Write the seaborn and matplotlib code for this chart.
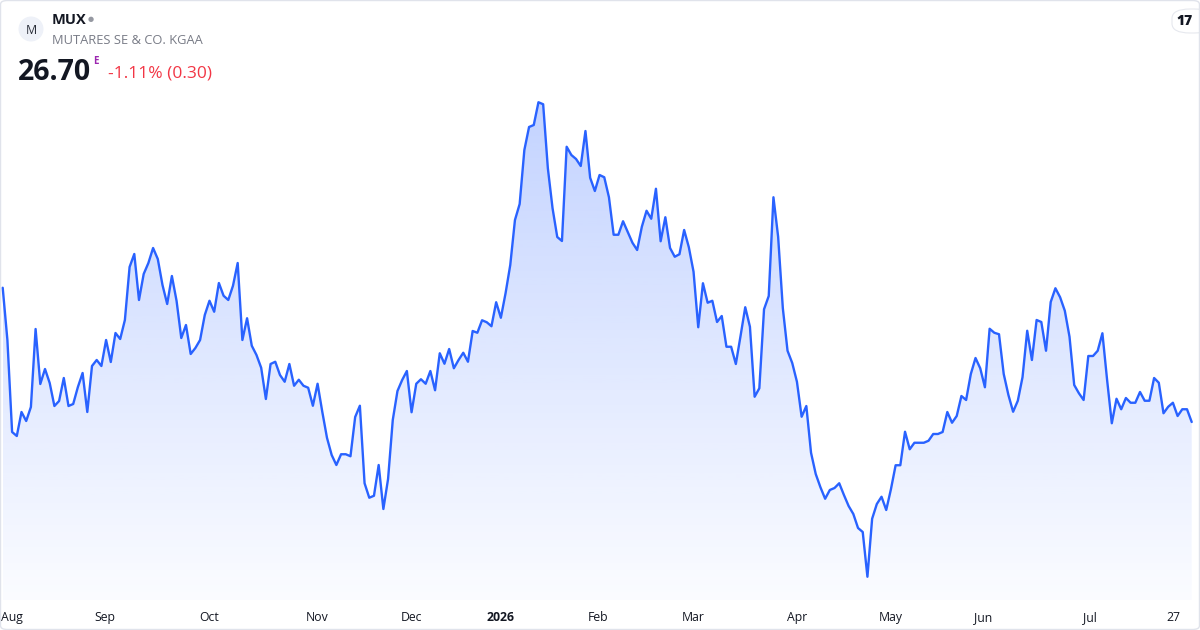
import matplotlib.pyplot as plt
import numpy as np
import pandas as pd
import seaborn as sns
from matplotlib.colors import LinearSegmentedColormap
from matplotlib.patches import Ellipse, FancyBboxPatch, Polygon

# daily closes (last close 26.70)
closes = [
    32.07, 29.98, 26.30, 26.14, 27.10, 26.74, 27.30, 30.42, 28.22, 28.82,
    28.26, 27.34, 27.54, 28.46, 27.34, 27.42, 28.10, 28.66, 27.10, 28.94,
    29.18, 28.94, 29.98, 29.10, 30.26, 30.02, 30.78, 32.90, 33.42, 31.58,
    32.62, 33.06, 33.66, 33.22, 32.18, 31.42, 32.54, 31.54, 30.06, 30.58,
    29.42, 29.66, 29.98,
    30.98, 31.55, 31.11, 32.26, 31.75, 31.58, 32.15, 33.06, 29.98, 30.85,
    29.75, 29.38, 28.87, 27.62, 29.02, 29.11, 28.58, 28.31, 29.02, 28.15,
    28.39, 28.15, 28.07, 27.35, 28.23, 27.11, 26.07, 25.38, 24.98, 25.41,
    25.41, 25.33, 26.90, 27.35, 24.25, 23.67, 23.75, 24.98, 23.22, 24.42,
    26.78, 27.94,
    28.38, 28.74, 27.09, 28.23, 28.41, 28.23, 28.74, 27.97, 29.45, 29.03,
    29.62, 28.85, 29.18, 29.47, 29.11, 30.34, 30.27, 30.77, 30.69, 30.53,
    31.49, 30.87, 31.85, 32.98, 34.78, 35.42, 37.58, 38.50, 38.58, 39.49,
    39.41, 36.85, 35.25, 34.10, 33.94, 37.71, 37.38, 37.22, 36.94, 38.34,
    36.47, 35.94, 36.58,
    36.49, 35.69, 34.19, 34.19, 34.73, 34.30, 33.87, 33.58, 34.51, 35.15,
    34.83, 36.03, 33.93, 34.89, 33.66, 33.31, 33.41, 34.38, 33.69, 32.71,
    30.49, 32.25, 31.47, 31.55, 30.70, 30.94, 29.71, 29.71, 29.02, 30.14,
    31.29, 30.51, 27.71, 28.05, 31.21, 31.74, 35.69, 34.11, 31.25, 29.55,
    29.06, 28.31,
    26.91, 27.34, 25.47, 24.62, 24.09, 23.63, 23.98, 24.06, 24.25, 23.78,
    23.34, 23.02, 22.46, 22.30, 20.51, 22.83, 23.42, 23.71, 23.18, 24.01,
    24.97, 24.97, 26.31, 25.61, 25.87, 25.87, 25.87, 25.95, 26.22, 26.22,
    26.30, 27.10, 26.67, 26.94, 27.74, 27.58, 28.62, 29.26, 28.85, 28.09,
    30.43, 30.27, 30.21,
    28.62, 27.78, 27.11, 27.55, 28.49, 30.35, 29.18, 30.78, 30.70, 29.55,
    31.50, 32.05, 31.69, 31.15, 30.11, 28.18, 27.85, 27.58, 29.34, 29.34,
    29.55, 30.25, 28.38, 26.65, 27.63, 27.21, 27.66, 27.47, 27.47, 27.90,
    27.55, 27.55, 28.46, 28.27, 27.05, 27.31, 27.47, 26.94, 27.21, 27.21,
    26.70,
]
tick_labels = ["Aug", "Sep", "Oct", "Nov", "Dec", "2026", "Feb", "Mar",
               "Apr", "May", "Jun", "Jul", "27"]
tick_days = [2, 21.8, 43.9, 66.9, 86.9, 106, 126.7, 146.9, 169, 189,
             208.6, 231.3, 249.2]

df = pd.DataFrame({"day": np.arange(len(closes)), "close": closes})

sns.set_theme(style="white")
plt.rcParams["font.family"] = ["Open Sans", "DejaVu Sans"]

W, H = 1200, 630
fig = plt.figure(figsize=(W / 100, H / 100), dpi=100)
fig.patch.set_facecolor("white")

ax = fig.add_axes([2.7 / W, 30 / H, 1189 / W, 600 / H])
ax.set_facecolor("none")
ymin, ymax = 19.58, 43.58
ax.set_xlim(0, len(closes) - 1)
ax.set_ylim(ymin, ymax)

# gradient area under the line
top = max(closes)
cmap = LinearSegmentedColormap.from_list(
    "area", [(41 / 255, 98 / 255, 1, 0.02), (41 / 255, 98 / 255, 1, 0.28)])
grad = np.linspace(0, 1, 256).reshape(-1, 1)
img = ax.imshow(grad, extent=[0, len(closes) - 1, ymin, top], origin="lower",
                aspect="auto", cmap=cmap, zorder=1)
verts = [(0, ymin)] + list(zip(df["day"], df["close"])) + [(len(closes) - 1, ymin)]
clip = Polygon(verts, closed=True, facecolor="none", edgecolor="none",
               transform=ax.transData)
ax.add_patch(clip)
img.set_clip_path(clip)
ax.set_ylim(ymin, ymax)

sns.lineplot(data=df, x="day", y="close", ax=ax, color="#2962ff",
             linewidth=1.7, zorder=3)
for ln in ax.lines:
    ln.set_clip_on(False)

ax.set_xlabel("")
ax.set_ylabel("")
ax.set_yticks([])
ax.set_xticks(tick_days, tick_labels)
ax.tick_params(axis="x", length=0, pad=8, labelsize=8.8, labelcolor="#131722")
for lbl in ax.get_xticklabels():
    if lbl.get_text() == "2026":
        lbl.set_fontweight("bold")
for s in ax.spines.values():
    s.set_visible(False)


def fy(y):
    return 1 - y / H


# header
fig.patches.append(Ellipse((31 / W, fy(29)), 25 / W, 25 / H,
                           transform=fig.transFigure,
                           facecolor="#eef1f8", edgecolor="none"))
fig.text(31 / W, fy(30), "M", ha="center", va="center", fontsize=9,
         color="#2a2e39")
fig.text(52 / W, fy(20), "MUX", ha="left", va="center", fontsize=10.5,
         fontweight="bold", color="#131722")
fig.text(91 / W, fy(20), "\u25cf", ha="center", va="center", fontsize=5,
         color="#9598a1")
fig.text(52 / W, fy(40), "MUTARES SE & CO. KGAA", ha="left", va="center",
         fontsize=9.3, color="#787b86")
fig.text(18 / W, fy(72), "26.70", ha="left", va="center", fontsize=20.5,
         fontweight="bold", color="#131722")
fig.text(93 / W, fy(61), "E", ha="left", va="center", fontsize=7,
         fontweight="bold", color="#9c27b0")
fig.text(108 / W, fy(74), "-1.11% (0.30)", ha="left", va="center",
         fontsize=12.5, color="#f23645")

# tradingview badge
fig.patches.append(FancyBboxPatch((1172 / W, fy(33)), 40 / W, 24 / H,
                                  boxstyle="round,pad=0,rounding_size=0.015",
                                  transform=fig.transFigure, facecolor="white",
                                  edgecolor="#e6e8ee", linewidth=0.8))
fig.text(1185 / W, fy(21), "17", ha="center", va="center", fontsize=10,
         fontweight="black", color="#131722")

# outer card border
fig.patches.append(FancyBboxPatch((0.5 / W, 0.5 / H), 1 - 1 / W, 1 - 1 / H,
                                  boxstyle="round,pad=0,rounding_size=0.006",
                                  transform=fig.transFigure, facecolor="none",
                                  edgecolor="#e0e3eb", linewidth=1))

fig.savefig("out.png", dpi=100)
plt.close(fig)
